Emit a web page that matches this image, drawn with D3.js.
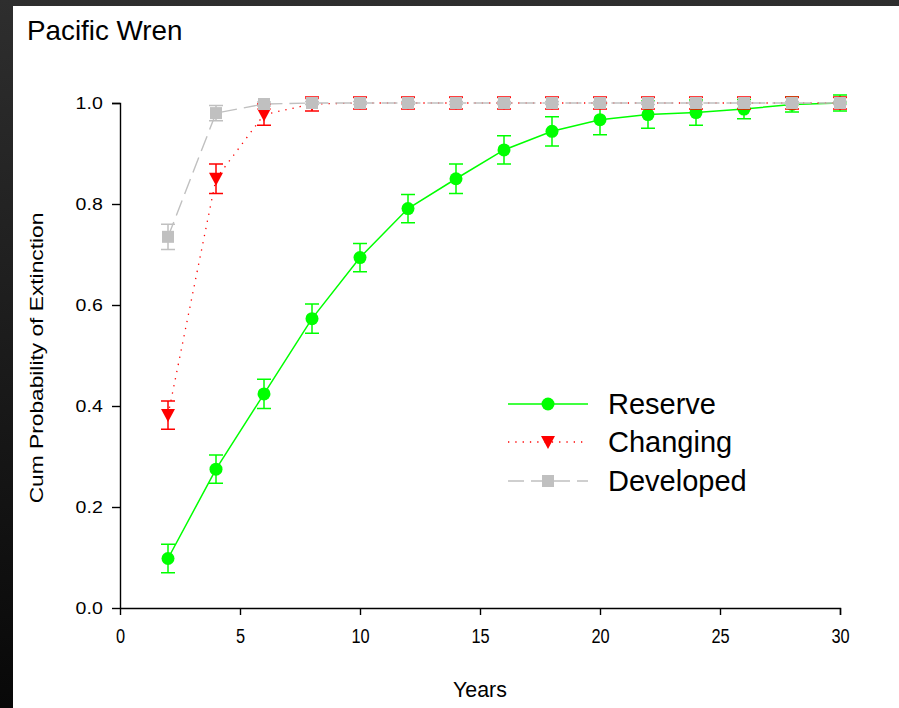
<!DOCTYPE html>
<html><head><meta charset="utf-8">
<script src="https://cdn.jsdelivr.net/npm/d3@7"></script>
<style>html,body{margin:0;padding:0;background:#fff;}svg{display:block;}</style>
</head><body>
<script>
const years = [2,4,6,8,10,12,14,16,18,20,22,24,26,28,30];
const reserve     = [0.098,0.275,0.424,0.573,0.694,0.791,0.850,0.907,0.944,0.967,0.977,0.981,0.988,0.997,1.0];
const reserveErr  = [0.028,0.028,0.029,0.029,0.028,0.028,0.029,0.028,0.029,0.030,0.027,0.025,0.019,0.015,0.016];
const changing    = [0.382,0.850,0.977,0.998,1.0,1.0,1.0,1.0,1.0,1.0,1.0,1.0,1.0,1.0,1.0];
const changingErr = [0.028,0.029,0.021,0.014,0.012,0.012,0.012,0.012,0.012,0.012,0.012,0.012,0.012,0.012,0.012];
const developed   = [0.735,0.980,0.998,1.0,1.0,1.0,1.0,1.0,1.0,1.0,1.0,1.0,1.0,1.0,1.0];
const developedErr= [0.025,0.015,0.004,0.003,0.003,0.003,0.003,0.003,0.003,0.003,0.003,0.003,0.003,0.003,0.003];
const xTicks = [0,5,10,15,20,25,30];
const yTicks = [0,0.2,0.4,0.6,0.8,1.0];
const seriesNames = ["Reserve","Changing","Developed"];

const W=899,H=708;
const svg=d3.select("body").append("svg").attr("width",W).attr("height",H);
const defs=svg.append("defs");
const grad=defs.append("linearGradient").attr("id","frame").attr("x1",0).attr("y1",0).attr("x2",0).attr("y2",1);
grad.append("stop").attr("offset","0%").attr("stop-color","#2e2e2e");
grad.append("stop").attr("offset","100%").attr("stop-color","#080808");
svg.append("rect").attr("width",W).attr("height",H).attr("fill","url(#frame)");
svg.append("rect").attr("x",13).attr("y",6).attr("width",W-13).attr("height",H-6).attr("fill","#fff");

const x=d3.scaleLinear().domain([0,30]).range([120,840]);
const y=d3.scaleLinear().domain([0,1]).range([608,103]);
const font="Arial, 'Liberation Sans', sans-serif";

svg.append("text").attr("x",27).attr("y",40).attr("font-family",font).attr("font-size",27.8).attr("fill","#000").text("Pacific Wren");

const xa=svg.append("g").attr("transform","translate(0,608)").call(d3.axisBottom(x).tickValues(xTicks).tickSize(7).tickPadding(16).tickFormat(d3.format("d")));
const ya=svg.append("g").attr("transform","translate(120,0)").call(d3.axisLeft(y).tickValues(yTicks).tickSize(8).tickPadding(9).tickFormat(d3.format(".1f")));
[xa,ya].forEach(a=>{a.select(".domain").attr("stroke","#000").attr("stroke-width",1.4);
 a.selectAll(".tick line").attr("stroke","#000").attr("stroke-width",1.4);
 a.selectAll("text").attr("font-family",font).attr("fill","#000");});
xa.selectAll("text").attr("font-size",19.5).attr("transform","scale(0.84,1)").attr("y",21);
ya.selectAll("text").attr("font-size",17).attr("transform","scale(1.15,1)").attr("x",-15);
ya.select(".domain").attr("d","M-8,103.5H0.5V608.5");
xa.select(".domain").attr("d","M120,0.5H840.5V7");

svg.append("text").attr("transform","translate(480,697) scale(0.93,1)").attr("text-anchor","middle").attr("font-family",font).attr("font-size",23).attr("fill","#000").text("Years");
svg.append("text").attr("transform","translate(43,358) rotate(-90) scale(1.3,1)").attr("text-anchor","middle").attr("font-family",font).attr("font-size",17.5).attr("fill","#000").text("Cum Probability of Extinction");

const series=[
 {name:seriesNames[0],vals:reserve,err:reserveErr,color:"#00ff00",dash:null,width:1.5,shape:"circle"},
 {name:seriesNames[1],vals:changing,err:changingErr,color:"#ff0000",dash:"1.3,6",width:1.3,shape:"tri"},
 {name:seriesNames[2],vals:developed,err:developedErr,color:"#c0c0c0",dash:"16,7",width:1.4,shape:"square"}
];
const line=d3.line().x((d,i)=>x(years[i])).y(d=>y(d));
function marker(g,shape,color,cx,cy){
  if(shape==="circle") g.append("circle").attr("cx",cx).attr("cy",cy).attr("r",6.5).attr("fill",color);
  else if(shape==="square") g.append("rect").attr("x",cx-6).attr("y",cy-6).attr("width",12).attr("height",12).attr("fill",color);
  else g.append("path").attr("d",`M${cx-7},${cy-6}L${cx+7},${cy-6}L${cx},${cy+7}Z`).attr("fill",color);
}
series.forEach(s=>{
  const g=svg.append("g");
  g.append("path").datum(s.vals).attr("d",line).attr("fill","none").attr("stroke",s.color).attr("stroke-width",s.width).attr("stroke-dasharray",s.dash);
  s.vals.forEach((v,i)=>{
    const cx=x(years[i]),t=y(v+s.err[i]),b=y(v-s.err[i]);
    g.append("path").attr("d",`M${cx},${t}V${b}M${cx-7},${t}H${cx+7}M${cx-7},${b}H${cx+7}`).attr("stroke",s.color).attr("stroke-width",1.5).attr("fill","none");
    marker(g,s.shape,s.color,cx,y(v));
  });
});

// legend
const legY=[404,442,481];
series.forEach((s,k)=>{
  const g=svg.append("g");
  g.append("line").attr("x1",508).attr("x2",588).attr("y1",legY[k]).attr("y2",legY[k]).attr("stroke",s.color).attr("stroke-width",s.width).attr("stroke-dasharray",s.dash);
  marker(g,s.shape,s.color,548,legY[k]);
  g.append("text").attr("x",608).attr("y",legY[k]+10).attr("font-family",font).attr("font-size",29).attr("fill","#000").text(s.name);
});
</script>
</body></html>
